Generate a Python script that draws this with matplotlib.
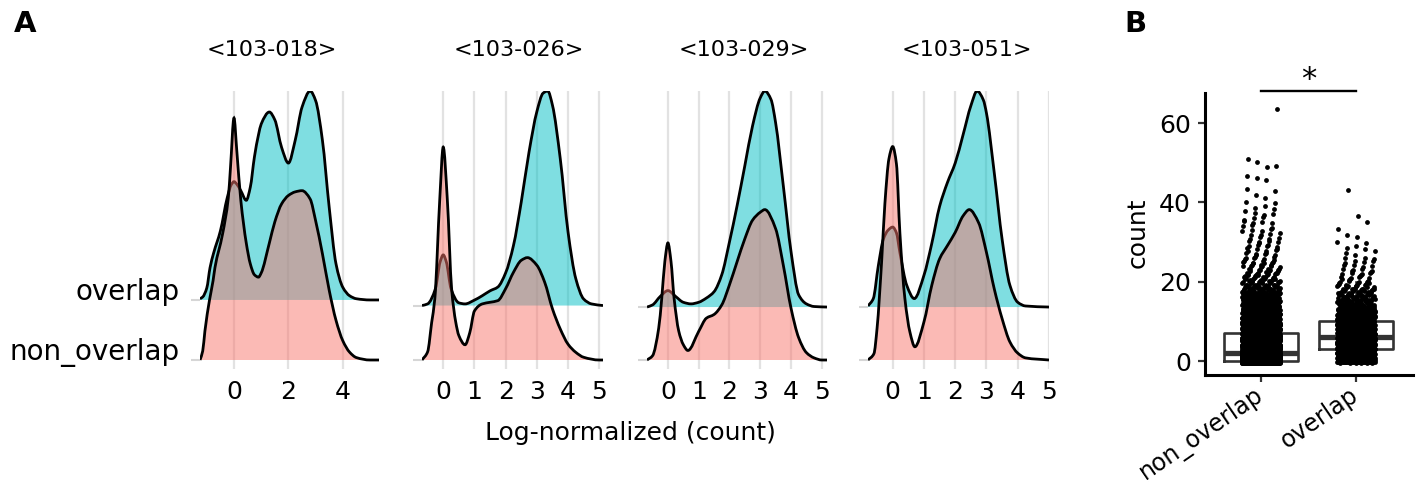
import matplotlib
matplotlib.use("Agg")
import matplotlib.pyplot as plt
import numpy as np
from matplotlib.path import Path
from matplotlib.patches import PathPatch
from matplotlib.transforms import ScaledTranslation

plt.rcParams["font.family"] = ["DejaVu Sans"]

W, H = 1416, 483

# ---- panel A: ridge heights (units = ridge spacing) ----
samples = ["<103-018>", "<103-026>", "<103-029>", "<103-051>"]
ridge_labels = ["non_overlap", "overlap"]

x_018_non = [-1.25, -1.15, -1.07, -0.9, -0.77, -0.7, -0.42, -0.21, -0.13, 0.0, 0.1, 0.25, 0.45, 0.6,
             0.75, 0.9, 1.0, 1.3, 1.5, 1.75, 2.0, 2.25, 2.5, 2.8, 3.0, 3.25, 3.5, 3.75, 4.0, 4.25,
             4.5, 5.0, 5.33]
h_018_non = [0.0, 0.15, 0.48, 1.0, 1.32, 1.54, 2.1, 2.7, 3.2, 4.03, 3.5, 2.66, 1.95, 1.6,
             1.42, 1.38, 1.45, 1.95, 2.3, 2.6, 2.74, 2.8, 2.82, 2.68, 2.32, 1.77, 1.16, 0.66, 0.32, 0.13,
             0.04, 0.0, 0.0]
x_018_ovl = [-1.25, -1.15, -1.0, -0.88, -0.75, -0.5, -0.25, -0.1, 0.0, 0.1, 0.25, 0.45, 0.6, 0.75,
             0.9, 1.0, 1.3, 1.5, 1.75, 2.0, 2.25, 2.5, 2.8, 3.0, 3.25, 3.5, 3.75, 4.0, 4.25, 4.5,
             5.0, 5.33]
h_018_ovl = [0.02, 0.05, 0.2, 0.54, 0.78, 1.15, 1.7, 1.92, 1.97, 1.93, 1.82, 1.66, 1.88, 2.38,
             2.75, 2.93, 3.13, 3.0, 2.54, 2.28, 2.66, 3.21, 3.48, 3.32, 2.66, 1.54, 0.6, 0.21, 0.07, 0.02,
             0.0, 0.0]

x_026_non = [-0.68, -0.5, -0.37, -0.27, -0.11, 0.0, 0.13, 0.27, 0.4, 0.5, 0.7, 0.85, 1.0, 1.25, 1.5,
             1.75, 2.0, 2.25, 2.5, 2.7, 3.0, 3.25, 3.5, 3.75, 4.0, 4.25, 4.5, 5.0, 5.12]
h_026_non = [0.0, 0.15, 0.69, 1.12, 2.96, 3.91, 2.96, 1.3, 0.7, 0.45, 0.28, 0.5, 0.9, 1.03, 1.06,
             1.09, 1.31, 1.61, 1.83, 1.88, 1.74, 1.43, 0.94, 0.57, 0.29, 0.14, 0.05, 0.0, 0.0]
x_026_ovl = [-0.68, -0.5, -0.25, -0.1, 0.0, 0.1, 0.25, 0.5, 0.7, 1.0, 1.25, 1.5, 1.75, 2.0, 2.25,
             2.5, 2.75, 3.0, 3.2, 3.35, 3.5, 3.75, 4.0, 4.25, 4.5, 4.75, 5.12]
h_026_ovl = [0.0, 0.03, 0.31, 0.8, 0.93, 0.8, 0.31, 0.05, 0.03, 0.1, 0.18, 0.27, 0.34, 0.6, 1.1,
             1.9, 2.82, 3.56, 3.9, 3.94, 3.68, 2.7, 1.35, 0.49, 0.12, 0.03, 0.0]

x_029_non = [-0.68, -0.5, -0.3, -0.2, -0.1, 0.0, 0.1, 0.2, 0.35, 0.5, 0.65, 1.0, 1.25, 1.5, 1.75,
             2.0, 2.25, 2.5, 2.75, 3.0, 3.15, 3.5, 3.75, 4.0, 4.25, 4.5, 4.75, 5.0, 5.17]
h_029_non = [0.0, 0.08, 0.6, 1.17, 1.86, 2.21, 1.86, 1.17, 0.55, 0.29, 0.18, 0.54, 0.79, 0.86, 1.04,
             1.42, 1.86, 2.29, 2.64, 2.79, 2.84, 2.48, 1.79, 0.98, 0.42, 0.14, 0.04, 0.0, 0.0]
x_029_ovl = [-0.68, -0.5, -0.25, 0.0, 0.25, 0.5, 0.75, 1.0, 1.25, 1.5, 1.75, 2.0, 2.25, 2.5, 2.75,
             3.0, 3.15, 3.35, 3.5, 3.75, 4.0, 4.25, 4.5, 4.75, 5.17]
h_029_ovl = [0.0, 0.04, 0.2, 0.31, 0.2, 0.09, 0.06, 0.09, 0.17, 0.29, 0.61, 1.23, 1.92, 2.67, 3.42,
             3.95, 4.08, 3.92, 3.48, 2.29, 1.05, 0.23, 0.06, 0.01, 0.0]

x_051_non = [-0.79, -0.6, -0.5, -0.35, -0.25, -0.12, 0.0, 0.12, 0.23, 0.39, 0.55, 0.71, 1.0, 1.25,
             1.5, 1.75, 2.0, 2.25, 2.45, 2.75, 3.0, 3.25, 3.5, 3.75, 4.0, 4.25, 5.0]
h_051_non = [0.0, 0.12, 0.6, 1.9, 2.95, 3.8, 4.03, 3.7, 2.4, 1.16, 0.53, 0.25, 0.72, 1.41,
             1.91, 2.16, 2.41, 2.72, 2.84, 2.59, 2.03, 1.34, 0.78, 0.34, 0.13, 0.04, 0.0]
x_051_ovl = [-0.79, -0.62, -0.46, -0.3, -0.15, 0.0, 0.12, 0.23, 0.45, 0.69, 1.0, 1.25, 1.5, 1.75,
             2.0, 2.25, 2.5, 2.7, 2.9, 3.0, 3.25, 3.5, 3.75, 4.0, 4.25, 5.0]
h_051_ovl = [0.02, 0.16, 0.78, 1.28, 1.45, 1.51, 1.4, 1.03, 0.41, 0.16, 0.6, 1.2, 1.9, 2.35,
             2.72, 3.25, 3.8, 4.08, 3.91, 3.66, 2.53, 1.28, 0.41, 0.09, 0.02, 0.0]

ridges = [
    (x_018_non, h_018_non, x_018_ovl, h_018_ovl, [0, 2, 4]),
    (x_026_non, h_026_non, x_026_ovl, h_026_ovl, [0, 1, 2, 3, 4, 5]),
    (x_029_non, h_029_non, x_029_ovl, h_029_ovl, [0, 1, 2, 3, 4, 5]),
    (x_051_non, h_051_non, x_051_ovl, h_051_ovl, [0, 1, 2, 3, 4, 5]),
]

# ---- panel B: number of cells per count value ----
groups = ["non_overlap", "overlap"]
non_counts = [1300, 650, 420, 330, 270, 230, 200, 170, 150, 130,
              115, 100, 88, 76, 66, 57, 49, 42, 30, 25,
              20, 16, 13, 11, 9, 8, 7, 6, 6, 5,
              5, 4, 4, 4, 3, 4, 3, 3, 2, 2,
              2, 1, 1, 2, 0, 0, 2, 1, 0, 2,
              1, 1, 0, 0, 0, 0, 0, 0, 0, 0,
              0, 0, 0, 0, 1]
ovl_counts = [110, 120, 120, 125, 125, 125, 120, 110, 100, 90,
              78, 66, 56, 47, 40, 33, 27, 22, 18, 14,
              9, 7, 6, 5, 4, 4, 3, 2, 2, 2,
              2, 1, 1, 1, 0, 1, 0, 1, 0, 0,
              0, 0, 0, 1]


def smooth_path(x, y, base=None):
    """Bezier path through the read points (monotone Hermite tangents)."""
    x, y = np.asarray(x, float), np.asarray(y, float)
    h = np.diff(x)
    d = np.diff(y) / h
    m = np.zeros_like(y)
    m[0], m[-1] = d[0], d[-1]
    for k in range(1, len(x) - 1):
        if d[k - 1] * d[k] > 0:
            w1, w2 = 2 * h[k] + h[k - 1], h[k] + 2 * h[k - 1]
            m[k] = (w1 + w2) / (w1 / d[k - 1] + w2 / d[k])
    if base is not None:
        verts, codes = [(x[0], base), (x[0], y[0])], [Path.MOVETO, Path.LINETO]
    else:
        verts, codes = [(x[0], y[0])], [Path.MOVETO]
    for k in range(len(x) - 1):
        verts += [(x[k] + h[k] / 3, y[k] + m[k] * h[k] / 3),
                  (x[k + 1] - h[k] / 3, y[k + 1] - m[k + 1] * h[k] / 3),
                  (x[k + 1], y[k + 1])]
        codes += [Path.CURVE4] * 3
    if base is not None:
        verts += [(x[-1], base), (x[0], base)]
        codes += [Path.LINETO, Path.CLOSEPOLY]
    return Path(verts, codes)


def ridge(ax, x, hgt, base, color, z):
    y = base + np.asarray(hgt)
    ax.add_patch(PathPatch(smooth_path(x, y, base), facecolor=color, alpha=0.5,
                           lw=0, zorder=z))
    ax.add_patch(PathPatch(smooth_path(x, y), fill=False, edgecolor="black",
                           lw=2.0, zorder=z + 0.5, capstyle="butt"))


fig = plt.figure(figsize=(W / 100, H / 100), dpi=100)


def px_box(l, t, r, b):
    return [l / W, 1 - b / H, (r - l) / W, (b - t) / H]


panels = [(200, 379), (422, 603), (647, 827), (868, 1049)]
title_x = [272, 519, 744, 967]
for k, ((xn, hn, xo, ho, ticks), (l, r)) in enumerate(zip(ridges, panels)):
    ax = fig.add_axes(px_box(l, 91, r, 369))
    ridge(ax, xo, ho, 2, "#00BFC4", 2)
    ridge(ax, xn, hn, 1, "#F8766D", 3)
    top = max(2 + max(ho), 1 + max(hn))
    f = 9 / 278
    ax.set_ylim(1 - f / (1 - f) * (top - 1), top)
    ax.set_xlim(min(xn[0], xo[0]), max(xn[-1], xo[-1]))
    ax.set_axisbelow(True)
    ax.grid(axis="x", color="#e2e2e2", lw=1.6)
    for s in ax.spines.values():
        s.set_visible(False)
    ax.set_xticks(ticks)
    ax.tick_params(axis="x", length=0, pad=8, labelsize=18)
    if k == 0:
        ax.set_yticks([1, 2], ridge_labels)
        for t in ax.get_yticklabels():
            t.set_va("baseline")
    else:
        ax.set_yticks([1, 2], ["", ""])
    ax.tick_params(axis="y", length=6.5, width=1.5, color="#d6d6d6", pad=8, labelsize=20)
    fig.text(title_x[k] / W, 1 - 50 / H, samples[k], ha="center", va="center", fontsize=16)

fig.text(630 / W, 1 - 433 / H, "Log-normalized (count)", ha="center", va="center", fontsize=18)

# ---- panel B ----
axb = fig.add_axes(px_box(1205, 93, 1413, 375))
raw, jit_x, jit_y = [], [], []
for pos, counts in zip([1, 2], [non_counts, ovl_counts]):
    y = np.repeat(np.arange(len(counts)), counts).astype(float)
    i = np.arange(1, len(y) + 1)
    dx = (i * 0.7548776662466927) % 1 - 0.5
    dy = (i * 0.5698402909980532) % 1 - 0.5
    raw.append(y)
    jit_x.append(pos + 0.4 * dx)
    jit_y.append(y + 0.8 * dy)

grey = "#333333"
axb.boxplot(raw, positions=[1, 2], widths=0.78, showfliers=False,
            boxprops=dict(color=grey, lw=1.9), medianprops=dict(color=grey, lw=3.8),
            whiskerprops=dict(color=grey, lw=1.9), capprops=dict(lw=0), zorder=2)
for xs, ys in zip(jit_x, jit_y):
    axb.scatter(xs, ys, s=12, c="black", lw=0, zorder=3)

axb.set_xlim(0.41, 2.6)
axb.set_ylim(-3.5, 67.6)
axb.set_yticks([0, 20, 40, 60])
axb.set_xticks([1, 2], groups)
shift = ScaledTranslation(0.13, 0.15, fig.dpi_scale_trans)
for t in axb.get_xticklabels():
    t.set_rotation(34.5)
    t.set_ha("right")
    t.set_va("center")
    t.set_rotation_mode("anchor")
    t.set_fontsize(17)
    t.set_transform(t.get_transform() + shift)
axb.tick_params(axis="both", length=5, width=1.6, color=grey)
axb.tick_params(axis="y", pad=5, labelsize=18)
axb.tick_params(axis="x", pad=8)
for side in ["top", "right"]:
    axb.spines[side].set_visible(False)
for side in ["left", "bottom"]:
    axb.spines[side].set_linewidth(2.2)
fig.text(1138 / W, 1 - 233 / H, "count", rotation=90, ha="center", va="center", fontsize=18)

axb.plot([1, 2], [68.2, 68.2], color="black", lw=1.7, clip_on=False)
axb.text(1.5, 68.9, "*", ha="center", va="baseline", fontsize=22)

fig.text(14 / W, 1 - 10 / H, "A", fontsize=21, fontweight="bold", va="top")
fig.text(1124 / W, 1 - 10 / H, "B", fontsize=21, fontweight="bold", va="top")

fig.savefig("out.png", dpi=100)
